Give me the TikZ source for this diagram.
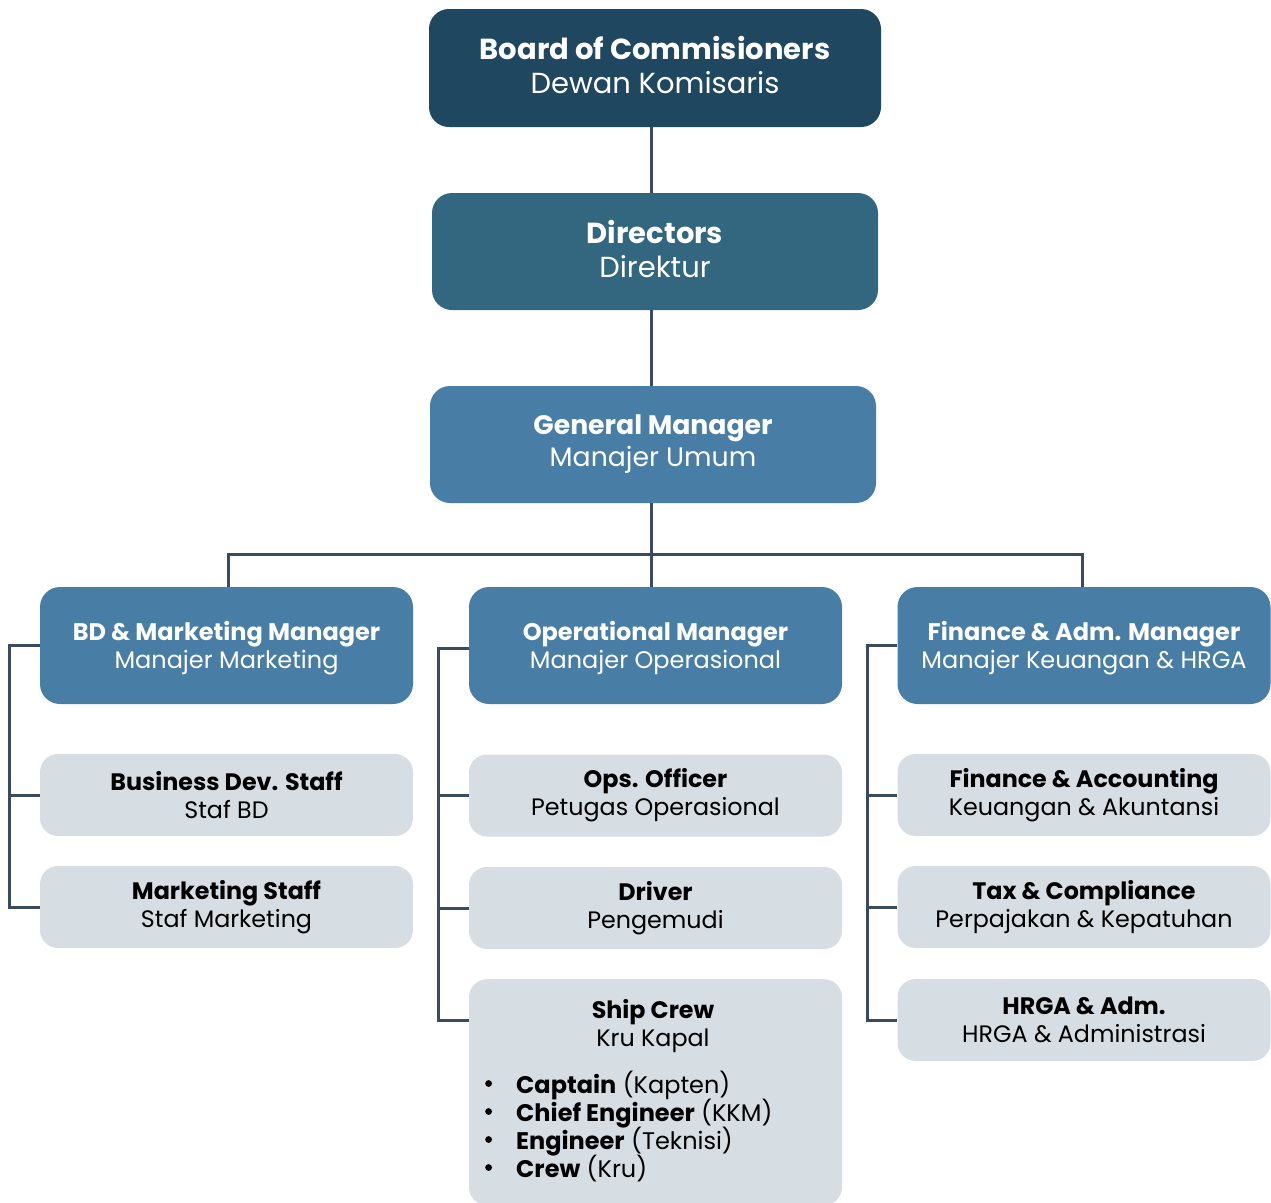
\documentclass[tikz,border=0pt]{standalone}
\usepackage{fontspec}
\setmainfont{Poppins}
\definecolor{cBoard}{HTML}{1F4760}
\definecolor{cDir}{HTML}{33677F}
\definecolor{cMgr}{HTML}{487EA6}
\definecolor{cStaff}{HTML}{D6DDE3}
\definecolor{cLine}{HTML}{3B4A63}
\newcommand{\crewbullet}{\makebox[34pt][l]{\hspace{3pt}\raisebox{0.28em}{\tikz\fill (0,0) circle (3.4pt);}}}
\newcommand{\tightlines}{\lineskiplimit -30pt\relax}
\tikzset{
  box/.style={rounded corners=20pt, inner sep=0pt, align=center, text=white},
  txt/.style={inner sep=0pt, align=center, text=white},
  topbox/.style={box, minimum width=452pt, minimum height=118pt},
  toptxt/.style={txt, font={\fontsize{29}{34}\selectfont\tightlines}},
  gmbox/.style={box, fill=cMgr, minimum width=446pt, minimum height=117pt, font={\fontsize{26.7}{32}\selectfont}},
  mgrbox/.style={box, fill=cMgr, minimum width=373pt, minimum height=117pt},
  mgrtxt/.style={txt, font={\fontsize{24}{28}\selectfont\tightlines}},
  staffbox/.style={box, fill=cStaff, text=black, minimum width=373pt, minimum height=82pt, rounded corners=18pt, font={\fontsize{23.8}{28}\selectfont}},
  conn/.style={draw=cLine, line width=3pt},
}
\begin{document}
\begin{tikzpicture}[x=1pt,y=-1pt]
\useasboundingbox (0,0) rectangle (1271,1202);
% top chain
\node[topbox, fill=cBoard] (board) at (655,68) {};
\node[toptxt] (boardt) at ([yshift=3pt]board.center) {\textbf{Board of Commisioners}\\Dewan Komisaris};
\node[topbox, fill=cDir, minimum width=446pt, minimum height=117pt] (dir) at (655,251.5) {};
\node[toptxt] (dirt) at ([yshift=2pt]dir.center) {\textbf{Directors}\\Direktur};
\node[gmbox] (gm) at (653,444.5) {\textbf{General Manager}\\Manajer Umum};
% managers
\node[mgrbox] (bd) at (226.5,645.5) {};
\node[mgrtxt] (bdt) at ([yshift=-2.5pt]bd.center) {\textbf{BD \& Marketing Manager}\\Manajer Marketing};
\node[mgrbox] (ops) at (655.5,645.5) {};
\node[mgrtxt] (opst) at ([yshift=-2.5pt]ops.center) {\textbf{Operational Manager}\\Manajer Operasional};
\node[mgrbox] (fin) at (1084,645.5) {};
\node[mgrtxt] (fint) at ([yshift=-2.5pt]fin.center) {\textbf{Finance \& Adm. Manager}\\Manajer Keuangan \& HRGA};
% staff left
\node[staffbox] (bds) at (226.5,795) {\textbf{Business Dev. Staff}\\Staf BD};
\node[staffbox] (mks) at (226.5,907) {\textbf{Marketing Staff}\\Staf Marketing};
% staff middle
\node[staffbox] (opo) at (655.5,795.5) {\textbf{Ops. Officer}\\Petugas Operasional};
\node[staffbox] (drv) at (655.5,908) {\textbf{Driver}\\Pengemudi};
\node[staffbox, minimum height=226pt, anchor=north] (sc) at (655.5,979) {};
\node[font={\fontsize{23.8}{28}\selectfont}, align=center, anchor=north, inner sep=0pt] (sct) at (653,999) {\textbf{Ship Crew}\\Kru Kapal};
\node[font={\fontsize{24}{28}\selectfont\tightlines}, align=left, anchor=north west, inner sep=0pt] (scl) at (482,1071) {%
\crewbullet\textbf{Captain} (Kapten)\\
\crewbullet\textbf{Chief Engineer} (KKM)\\
\crewbullet\textbf{Engineer} (Teknisi)\\
\crewbullet\textbf{Crew} (Kru)};
% staff right
\node[staffbox] (fa) at (1084,795) {\textbf{Finance \& Accounting}\\Keuangan \& Akuntansi};
\node[staffbox] (tax) at (1084,907) {\textbf{Tax \& Compliance}\\Perpajakan \& Kepatuhan};
\node[staffbox] (hr) at (1084,1020) {\textbf{HRGA \& Adm.}\\HRGA \& Administrasi};
% connectors
\coordinate (bus) at (651,554);
\draw[conn] ([xshift=-4pt]board.south) -- ([xshift=-4pt]dir.north);
\draw[conn] ([xshift=-4pt]dir.south) -- ([xshift=-2pt]gm.north);
\draw[conn] ([xshift=-2pt]gm.south) -- (bus) -- (bus |- ops.north);
\draw[conn] ([xshift=1.5pt]bd.north) |- (bus);
\draw[conn] (bus) -| ([xshift=-2pt]fin.north);
% left bracket
\draw[conn] (bd.west) -- ++(-30,0) coordinate (lb) |- (mks.west);
\draw[conn] (lb) |- (bds.west);
% middle bracket
\draw[conn] ([yshift=-2.5pt]ops.west) -- ++(-30,0) coordinate (mb) |- ([yshift=-41pt]sc.north west);
\draw[conn] (mb) |- (opo.west);
\draw[conn] (mb) |- (drv.west);
% right bracket
\draw[conn] (fin.west) -- ++(-30,0) coordinate (rb) |- (hr.west);
\draw[conn] (rb) |- (fa.west);
\draw[conn] (rb) |- (tax.west);
\end{tikzpicture}
\end{document}
